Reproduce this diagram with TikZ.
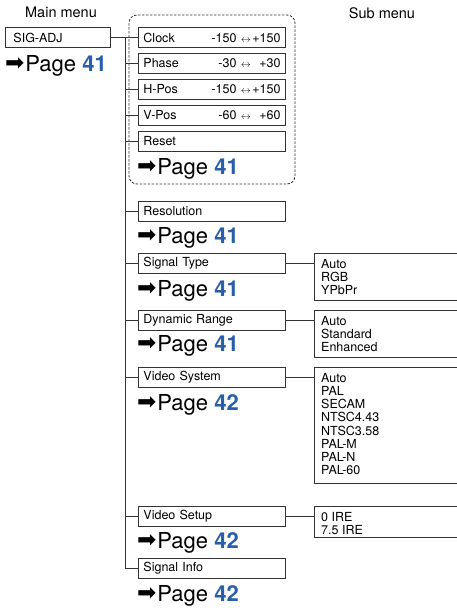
\documentclass[tikz,border=0pt]{standalone}
\usepackage{fontspec}
\setmainfont{TeX Gyre Heros}
\newfontfamily\symfont{DejaVu Sans}
\usetikzlibrary{positioning,calc}
\definecolor{pageblue}{RGB}{40,95,170}
\tikzset{
  menubox/.style={
    draw=black!80,
    line width=0.9pt,
    anchor=north west,
    minimum height=20pt,
    text width=137pt,
    inner xsep=5pt,
    inner ysep=0pt,
    align=left,
    font=\fontsize{12.5}{13.2}\selectfont
  },
  heading/.style={font=\fontsize{14.5}{17}\selectfont},
  pageref/.style={anchor=base west, inner sep=0pt, font=\fontsize{22}{24}\selectfont},
  optlist/.style={anchor=north west, inner sep=0pt, align=left, font=\fontsize{12.5}{13.2}\selectfont},
  wire/.style={draw=black!80, line width=0.9pt},
  group/.style={draw=black!80, line width=0.8pt, dash pattern=on 2.5pt off 1.5pt, rounded corners=8pt}
}
\newcommand{\pg}[1]{\raisebox{1pt}{\symfont\fontsize{23}{23}\selectfont ➡}\hspace{1pt}Page \textbf{\color{pageblue}#1}}
\newcommand{\range}[3]{#1\hfill#2\hspace{3pt}\makebox[13pt]{\normalsize$\leftrightarrow$}\makebox[28pt][r]{#3}}
\newcommand{\optbox}[4]{
  \draw[wire] (458,#2) -- (314,#2) -- (314,#3) -- (458,#3);
  \coordinate (#1) at (314,#2);
  \node[optlist] (#1txt) at (321,#2+6) {#4};
}

\begin{document}
\begin{tikzpicture}[x=1pt, y=-1pt]
  \useasboundingbox (0,0) rectangle (457,608);
  \node[heading] (mainhd) at (61,12) {Main menu};
  \node[heading] (subhd) at (382,13) {Sub menu};
  \node[menubox, text width=89pt, inner xsep=8pt] (sigadj) at (5,27) {SIG-ADJ};
  \node[pageref] (sigpg) at (5,71) {\pg{41}};

  \draw[group] (129,15) rectangle (295,184);
  \node[menubox] (clock) at (138,27) {\range{Clock}{-150}{+150}};
  \node[menubox] (phase) at (138,53) {\range{Phase}{-30}{+30}};
  \node[menubox] (hpos) at (138,79) {\range{H-Pos}{-150}{+150}};
  \node[menubox] (vpos) at (138,105) {\range{V-Pos}{-60}{+60}};
  \node[menubox] (reset) at (138,131) {Reset};
  \node[pageref] (resetpg) at (137,174) {\pg{41}};

  \node[menubox] (res) at (138,201) {Resolution};
  \node[pageref] (respg) at (137,243) {\pg{41}};
  \node[menubox] (sigtype) at (138,253) {Signal Type};
  \node[pageref] (sigtypepg) at (137,296) {\pg{41}};
  \node[menubox] (dynrange) at (138,310) {Dynamic Range};
  \node[pageref] (dynrangepg) at (137,351) {\pg{41}};
  \node[menubox] (vidsys) at (138,367) {Video System};
  \node[pageref] (vidsyspg) at (137,410) {\pg{42}};
  \node[menubox] (vidsetup) at (138,506) {Video Setup};
  \node[pageref] (vidsetuppg) at (137,548) {\pg{42}};
  \node[menubox] (siginfo) at (138,558) {Signal Info};
  \node[pageref] (siginfopg) at (137,601) {\pg{42}};

  \optbox{sigtypeopt}{253}{300}{Auto\\RGB\\YPbPr}
  \optbox{dynrangeopt}{310}{357}{Auto\\Standard\\Enhanced}
  \optbox{vidsysopt}{367}{483}{Auto\\PAL\\SECAM\\NTSC4.43\\NTSC3.58\\PAL-M\\PAL-N\\PAL-60}
  \optbox{vidsetupopt}{506}{537}{0 IRE\\7.5 IRE}

  \coordinate (trunk) at (125,37);
  \draw[wire] (sigadj.east) -- (clock.west);
  \draw[wire] (trunk) -- (trunk |- siginfo.west) -- (siginfo.west);
  \foreach \n in {phase,hpos,vpos,reset,res,sigtype,dynrange,vidsys,vidsetup}
    \draw[wire] (trunk |- \n.west) -- (\n.west);
  \foreach \n in {sigtype,dynrange,vidsys,vidsetup}
    \draw[wire] (\n.east) -- (\n.east -| \n opt);
\end{tikzpicture}
\end{document}
